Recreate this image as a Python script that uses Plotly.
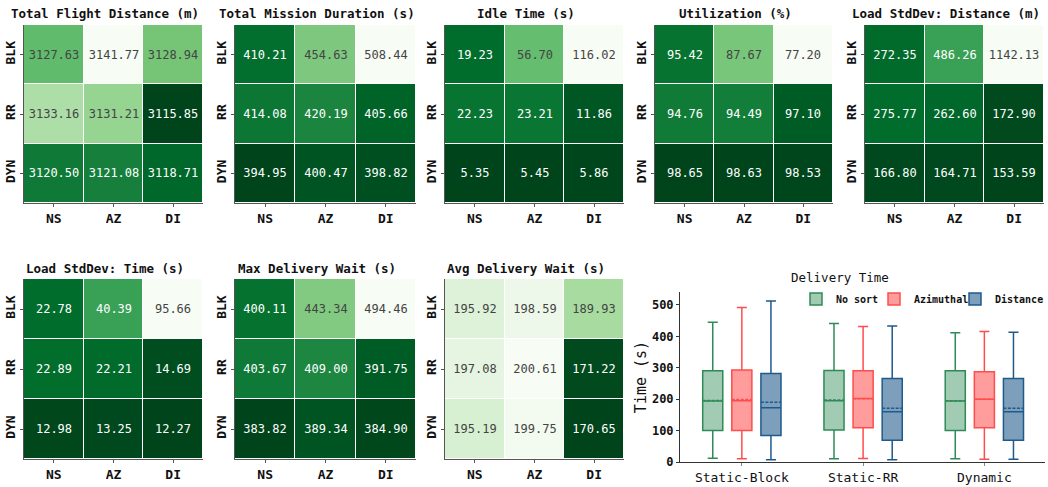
import plotly.graph_objects as go

W, H = 1048, 487
FONT = "DejaVu Sans Mono"

# ---------------- data ----------------
rows = ["BLK", "RR", "DYN"]
cols = ["NS", "AZ", "DI"]

flight_distance = [[3127.63, 3141.77, 3128.94], [3133.16, 3131.21, 3115.85], [3120.50, 3121.08, 3118.71]]
mission_duration = [[410.21, 454.63, 508.44], [414.08, 420.19, 405.66], [394.95, 400.47, 398.82]]
idle_time = [[19.23, 56.70, 116.02], [22.23, 23.21, 11.86], [5.35, 5.45, 5.86]]
utilization = [[95.42, 87.67, 77.20], [94.76, 94.49, 97.10], [98.65, 98.63, 98.53]]
load_std_dist = [[272.35, 486.26, 1142.13], [275.77, 262.60, 172.90], [166.80, 164.71, 153.59]]
load_std_time = [[22.78, 40.39, 95.66], [22.89, 22.21, 14.69], [12.98, 13.25, 12.27]]
max_wait = [[400.11, 443.34, 494.46], [403.67, 409.00, 391.75], [383.82, 389.34, 384.90]]
avg_wait = [[195.92, 198.59, 189.93], [197.08, 200.61, 171.22], [195.19, 199.75, 170.65]]

panel_titles = ["Total Flight Distance (m)", "Total Mission Duration (s)", "Idle Time (s)",
                "Utilization (%)", "Load StdDev: Distance (m)", "Load StdDev: Time (s)",
                "Max Delivery Wait (s)", "Avg Delivery Wait (s)"]
panel_data = [flight_distance, mission_duration, idle_time, utilization,
              load_std_dist, load_std_time, max_wait, avg_wait]
higher_better = [False, False, False, True, False, False, False, False]

groups = ["Static-Block", "Static-RR", "Dynamic"]
series_names = ["No sort", "Azimuthal", "Distance"]
ns_q1 = [100, 102, 100]; ns_med = [194, 195, 194]; ns_q3 = [290, 291, 290]
ns_lo = [12, 10, 10]; ns_hi = [445, 441, 411]; ns_mean = [196, 197, 195]
az_q1 = [100, 109, 109]; az_med = [195, 202, 200]; az_q3 = [293, 290, 287]
az_lo = [10, 11, 9]; az_hi = [492, 431, 415]; az_mean = [199, 201, 200]
di_q1 = [84, 69, 69]; di_med = [173, 160, 160]; di_q3 = [282, 266, 266]
di_lo = [7, 7, 9]; di_hi = [512, 433, 413]; di_mean = [190, 171, 171]
y_ticks = [0, 100, 200, 300, 400, 500]

# ---------------- styling ----------------
greens = ["#f7fcf5", "#e5f5e0", "#c7e9c0", "#a1d99b", "#74c476",
          "#41ab5d", "#238b45", "#006d2c", "#00441b"]
cscale = [[i / 8, c] for i, c in enumerate(greens)]

# pixel boxes of heatmaps (x0, x1, y0, y1)
boxes = [(24, 203, 25, 203), (235, 416, 25, 203), (445, 624, 25, 203),
         (655, 833, 25, 203), (865, 1044, 25, 203),
         (24, 203, 279, 459), (235, 416, 279, 459), (445, 624, 279, 459)]


def fx(p):
    return p / W


def fy(p):
    return 1 - p / H


fig = go.Figure()
annotations = []
layout_axes = {}

for i, (title, z, hb, (x0, x1, y0, y1)) in enumerate(zip(panel_titles, panel_data, higher_better, boxes)):
    n = i + 1
    xa = "x" if n == 1 else f"x{n}"
    ya = "y" if n == 1 else f"y{n}"
    fig.add_trace(go.Heatmap(
        z=z, x=cols, y=rows, xaxis=xa, yaxis=ya,
        colorscale=cscale, reversescale=not hb, showscale=False,
        xgap=1, ygap=1, texttemplate="%{z:.2f}",
        textfont=dict(family=FONT, size=12), hoverinfo="skip"))
    axcommon = dict(showline=True, linecolor="#555", linewidth=1, ticks="outside",
                    ticklen=3, tickcolor="#555", showgrid=False, zeroline=False,
                    automargin=False,
                    tickfont=dict(family=FONT, size=13, color="#111", weight="bold"))
    layout_axes["xaxis" if n == 1 else f"xaxis{n}"] = dict(
        domain=[fx(x0), fx(x1)], anchor=ya, type="category", **axcommon)
    layout_axes["yaxis" if n == 1 else f"yaxis{n}"] = dict(
        domain=[fy(y1), fy(y0)], anchor=xa, type="category", autorange="reversed",
        tickangle=-90, **axcommon)
    annotations.append(dict(
        text=title, xref="paper", yref="paper", x=fx((x0 + x1) / 2 - 9),
        y=fy(y0 - 11), xanchor="center", yanchor="middle", showarrow=False,
        font=dict(family=FONT, size=12.5, color="#111", weight="bold")))

# ---------------- box plot ----------------
box_specs = [
    ("No sort", ns_q1, ns_med, ns_q3, ns_lo, ns_hi, ns_mean, "#2e8b57", "rgba(46,139,87,0.45)", "legend", 796),
    ("Azimuthal", az_q1, az_med, az_q3, az_lo, az_hi, az_mean, "#ff4d4d", "rgba(255,77,77,0.55)", "legend2", 874),
    ("Distance", di_q1, di_med, di_q3, di_lo, di_hi, di_mean, "#1f5a8c", "rgba(31,90,140,0.58)", "legend3", 955),
]
legends = {}
for name, q1, med, q3, lo, hi, mean, lc, fc, lg, lx in box_specs:
    fig.add_trace(go.Box(
        name=name, x=groups, q1=q1, median=med, q3=q3, lowerfence=lo, upperfence=hi,
        mean=mean, boxmean=True, xaxis="x9", yaxis="y9", boxpoints=False,
        line=dict(color=lc, width=1.5), fillcolor=fc, whiskerwidth=0.5,
        legend=lg, hoverinfo="skip"))
    legends[lg] = dict(orientation="h", x=fx(lx), xanchor="left", y=fy(299), yanchor="middle",
                       bgcolor="rgba(0,0,0,0)",
                       font=dict(family=FONT, size=10, color="#111", weight="bold"),
                       itemwidth=30)

layout_axes["xaxis9"] = dict(
    domain=[fx(680), fx(1045)], anchor="y9", type="category", range=[-0.51, 2.5],
    showline=True, linecolor="#333", linewidth=1, ticks="outside", ticklen=3,
    tickcolor="#888", showgrid=False, automargin=False,
    tickfont=dict(family=FONT, size=13, color="#111"))
layout_axes["yaxis9"] = dict(
    domain=[fy(462), fy(292)], anchor="x9", range=[0, 541], tickvals=y_ticks,
    showline=True, linecolor="#333", linewidth=1, ticks="outside", ticklen=3,
    tickcolor="#333", showgrid=False, zeroline=False, automargin=False,
    tickfont=dict(family=FONT, size=12, color="#111", weight="bold"),
    title=dict(text="Time (s)", font=dict(family=FONT, size=15, color="#111"), standoff=1))

annotations.append(dict(
    text="Delivery Time", xref="paper", yref="paper", x=fx(840), y=fy(277),
    xanchor="center", yanchor="middle", showarrow=False,
    font=dict(family=FONT, size=12.5, color="#111")))

fig.update_layout(
    width=W, height=H, margin=dict(l=0, r=0, t=0, b=0, autoexpand=False),
    paper_bgcolor="white", plot_bgcolor="white",
    font=dict(family=FONT, color="#111"),
    boxmode="group", boxgap=0.28, boxgroupgap=0.31,
    showlegend=True,
    annotations=annotations,
    **legends,
    **layout_axes)

fig.write_html("out.html", config={"displayModeBar": False},
               post_script="document.body.style.margin='0px';")
